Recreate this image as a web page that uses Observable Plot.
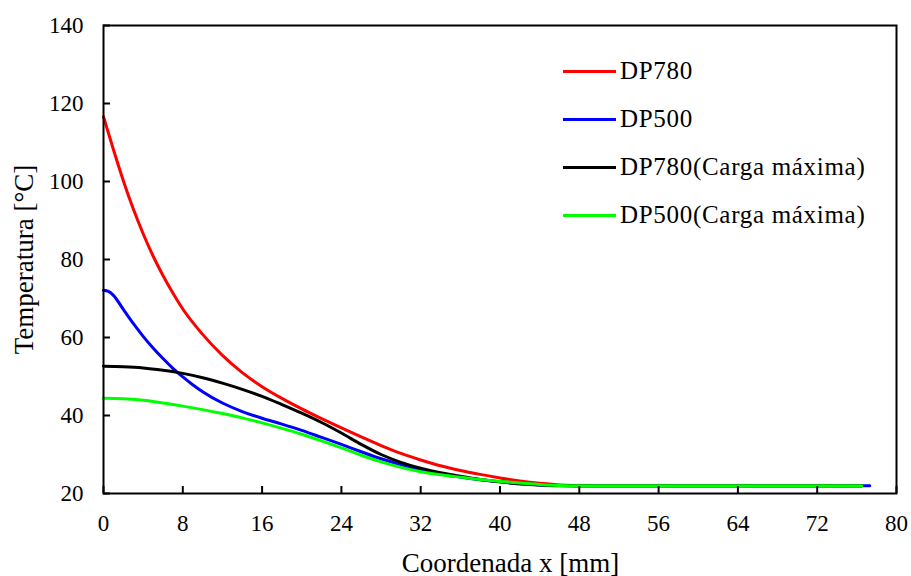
<!DOCTYPE html>
<html><head><meta charset="utf-8">
<script src="https://cdn.jsdelivr.net/npm/d3@7"></script>
<script src="https://cdn.jsdelivr.net/npm/@observablehq/plot@0.6"></script>
<style>
body{margin:0;background:#fff;}
#wrap{position:relative;width:911px;height:576px;font-family:"Liberation Serif","Times New Roman",serif;}
#legend{position:absolute;left:563px;top:47px;}
.row{display:flex;align-items:center;height:48px;font-size:25px;letter-spacing:0.7px;color:#000;white-space:nowrap;}
.sw{width:53px;height:3px;margin-right:4px;}
</style></head><body><div id="wrap"><div id="chart"></div><div id="legend"></div></div>
<script>
const seriesNames = ["DP780", "DP500", "DP780(Carga máxima)", "DP500(Carga máxima)"];
const seriesColors = ["#ff0000", "#0000ff", "#000000", "#00ff00"];
const xTicks = [0, 8, 16, 24, 32, 40, 48, 56, 64, 72, 80];
const yTicks = [20, 40, 60, 80, 100, 120, 140];
const xTitle = "Coordenada x [mm]";
const yTitle = "Temperatura [°C]";

const xDP780 = [0, 1, 2, 3, 4, 5, 6, 7, 8, 10, 12, 14, 16, 18, 20, 22, 24, 26, 28, 30, 32, 34, 36, 38, 40, 42, 44, 46, 48, 60, 76.5];
const yDP780 = [116.6, 108.2, 100.2, 93, 86.6, 80.9, 75.9, 71.4, 67.3, 60.8, 55.4, 51.0, 47.4, 44.4, 41.7, 39.2, 36.8, 34.5, 32.3, 30.3, 28.6, 27.1, 25.9, 24.9, 24.0, 23.2, 22.6, 22.2, 22, 22, 22];

const xDP500 = [0, 0.5, 1, 2, 3, 4, 5, 6, 7, 8, 9, 10, 12, 14, 16, 18, 20, 22, 24, 26, 28, 30, 32, 34, 36, 38, 40, 42, 44, 46, 48, 60, 77.3];
const yDP500 = [72.1, 71.8, 70.8, 67.2, 63.6, 60.3, 57.3, 54.6, 52.1, 49.9, 47.9, 46.1, 43.2, 41.0, 39.3, 37.8, 36.2, 34.4, 32.6, 30.7, 28.9, 27.4, 26.1, 25.0, 24.2, 23.5, 23.0, 22.5, 22.2, 22, 22, 22, 22];

const xDP780max = [0, 2, 4, 6, 8, 10, 12, 14, 16, 18, 20, 22, 24, 26, 28, 30, 32, 34, 36, 38, 40, 42, 44, 46, 48, 60, 76.5];
const yDP780max = [52.6, 52.5, 52.2, 51.6, 50.8, 49.7, 48.3, 46.7, 44.9, 42.8, 40.6, 38.2, 35.5, 32.6, 30.0, 28.0, 26.5, 25.3, 24.4, 23.6, 23.0, 22.5, 22.2, 22.05, 22, 22, 22];

const xDP500max = [0, 2, 4, 6, 8, 10, 12, 14, 16, 18, 20, 22, 24, 26, 28, 30, 32, 34, 36, 38, 40, 42, 44, 46, 48, 60, 76.5];
const yDP500max = [44.4, 44.3, 43.9, 43.2, 42.4, 41.5, 40.5, 39.4, 38.1, 36.7, 35.2, 33.5, 31.7, 29.8, 28.1, 26.7, 25.6, 24.8, 24.2, 23.6, 23.1, 22.7, 22.3, 22.05, 22, 22, 22];

const xs = [xDP780, xDP500, xDP780max, xDP500max];
const ys = [yDP780, yDP500, yDP780max, yDP500max];
const data = [];
seriesNames.forEach((s, i) => xs[i].forEach((x, j) => data.push({series: s, x, y: ys[i][j]})));

const W = 911, H = 576, mL = 103, mR = 15, mT = 25, mB = 83;
const plotW = W - mL - mR, plotH = H - mT - mB, tickLen = 7;
const font = "Liberation Serif, Times New Roman, serif";
const chart = Plot.plot({
  width: W, height: H,
  marginLeft: mL, marginRight: mR, marginTop: mT, marginBottom: mB,
  style: {fontFamily: font, fontSize: "23px", color: "#000"},
  x: {domain: [0, 80]},
  y: {domain: [20, 140]},
  color: {domain: seriesNames, range: seriesColors},
  marks: [
    Plot.line(data, {x: "x", y: "y", z: "series", stroke: "series", strokeWidth: 3, curve: "monotone-x"}),
    Plot.frame({stroke: "#000", strokeWidth: 2}),
    // inward tick marks along the bottom and left edges
    Plot.tickX(xTicks, {x: d => d, insetTop: plotH - tickLen, stroke: "#000", strokeWidth: 2}),
    Plot.tickY(yTicks, {y: d => d, insetRight: plotW - tickLen, stroke: "#000", strokeWidth: 2}),
    Plot.axisX({ticks: xTicks, tickSize: 0, tickPadding: 21, label: null}),
    Plot.axisY({ticks: yTicks, tickSize: 0, tickPadding: 20, label: null}),
    Plot.axisY({ticks: [], tickSize: 0, label: yTitle, labelAnchor: "center", labelArrow: "none", labelOffset: 90, fontSize: 27}),
    Plot.text([xTitle], {text: d => d, frameAnchor: "bottom", lineAnchor: "bottom", dy: 78, dx: 10.5, fontSize: 27})
  ]
});
document.getElementById("chart").appendChild(chart);

const legend = document.getElementById("legend");
seriesNames.forEach((s, i) => {
  const row = document.createElement("div");
  row.className = "row";
  const sw = document.createElement("div");
  sw.className = "sw";
  sw.style.background = seriesColors[i];
  const t = document.createElement("span");
  t.textContent = s;
  row.appendChild(sw); row.appendChild(t);
  legend.appendChild(row);
});
</script></body></html>
